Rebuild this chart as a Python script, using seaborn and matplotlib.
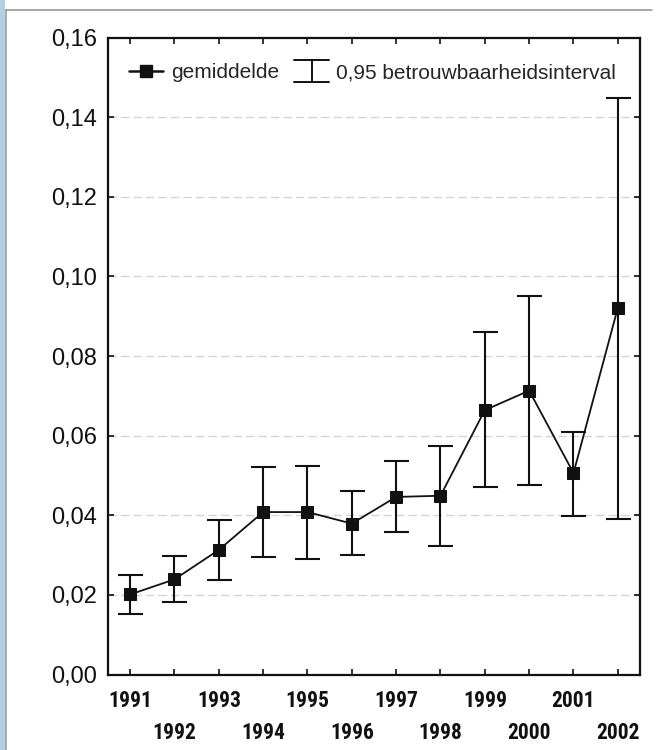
import numpy as np
import pandas as pd
import matplotlib
matplotlib.use("Agg")
import matplotlib.pyplot as plt
import seaborn as sns
from matplotlib import font_manager
from matplotlib.lines import Line2D
from matplotlib.legend_handler import HandlerBase
from matplotlib.patches import Rectangle

# ---- data ----
years = [1991, 1992, 1993, 1994, 1995, 1996, 1997, 1998, 1999, 2000, 2001, 2002]
mean_vals = [0.0201, 0.0239, 0.0313, 0.0408, 0.0408, 0.0379, 0.0446, 0.0449, 0.0664, 0.0713, 0.0506, 0.0921]
ci_upper = [0.0250, 0.0298, 0.0387, 0.0520, 0.0523, 0.0461, 0.0536, 0.0575, 0.0860, 0.0950, 0.0609, 0.1449]
ci_lower = [0.0152, 0.0183, 0.0237, 0.0294, 0.0290, 0.0299, 0.0358, 0.0323, 0.0472, 0.0476, 0.0398, 0.0391]
y_ticks = [0.00, 0.02, 0.04, 0.06, 0.08, 0.10, 0.12, 0.14, 0.16]
y_tick_labels = ["0,00", "0,02", "0,04", "0,06", "0,08", "0,10", "0,12", "0,14", "0,16"]
legend_mean = "gemiddelde"
legend_ci = "0,95 betrouwbaarheidsinterval"

df = pd.DataFrame({"jaar": years, "gemiddelde": mean_vals,
                   "boven": ci_upper, "onder": ci_lower})

sns.set_theme(style="white")
plt.rcParams["font.family"] = ["Liberation Sans", "DejaVu Sans"]


# pick a condensed bold font for the year labels if one is installed
def condensed_font(size):
    entries = font_manager.fontManager.ttflist
    wanted = ["Liberation Sans Narrow", "Roboto Condensed", "Open Sans Condensed",
              "DejaVu Sans Condensed", "Noto Sans Condensed"]
    for name in wanted:
        for e in entries:
            if e.name == name and e.weight in ("bold", 700):
                return font_manager.FontProperties(fname=e.fname, size=size)
    for e in entries:
        st = str(e.stretch)
        if (st in ("condensed", "semi-condensed", "extra-condensed")
                or "Condensed" in e.name or "Narrow" in e.name) and \
                e.weight in ("bold", 700, "heavy", 800):
            return font_manager.FontProperties(fname=e.fname, size=size)
    for e in entries:
        if "Condensed" in e.fname and "Bold" in e.fname:
            return font_manager.FontProperties(fname=e.fname, size=size)
    return font_manager.FontProperties(family="DejaVu Sans", weight="bold", size=size - 1.5)


fig = plt.figure(figsize=(6.57, 7.5), dpi=100)
fig.patch.set_facecolor("white")
ax = fig.add_axes([108 / 657, 1 - 674.5 / 750, 532 / 657, 637 / 750])

# grid lines
for yv in y_ticks[1:-1]:
    ax.axhline(yv, color="#d4d4d4", lw=1.0, ls=(0, (6, 3)), zorder=0)

# error bars
yerr = np.vstack([df["gemiddelde"] - df["onder"], df["boven"] - df["gemiddelde"]])
ax.errorbar(df["jaar"], df["gemiddelde"], yerr=yerr, fmt="none",
            ecolor="#111111", elinewidth=1.5, capsize=9, capthick=1.5, zorder=2)

# mean line
sns.lineplot(data=df, x="jaar", y="gemiddelde", ax=ax, color="#111111",
             lw=1.3, marker="s", markersize=8.5, markeredgecolor="#111111",
             markerfacecolor="#111111", zorder=3, legend=False)

ax.set_xlim(1990.5, 2002.5)
ax.set_ylim(0, 0.16)
ax.set_xlabel("")
ax.set_ylabel("")

# ticks
odd = [y for y in years if y % 2 == 1]
even = [y for y in years if y % 2 == 0]
ax.set_xticks(odd, [str(y) for y in odd])
ax.set_xticks(even, [str(y) for y in even], minor=True)
ax.set_yticks(y_ticks, y_tick_labels)

xfp = condensed_font(15.5)
for lab in ax.get_xticklabels(which="both"):
    lab.set_fontproperties(xfp)
    lab.set_color("#111111")
for lab in ax.get_yticklabels():
    lab.set_fontsize(17)
    lab.set_color("#111111")

ax.tick_params(axis="x", which="major", direction="in", top=True, bottom=True,
               length=4, width=1.2, pad=11, color="#111111")
ax.tick_params(axis="x", which="minor", direction="in", top=True, bottom=True,
               length=4, width=1.2, pad=34, color="#111111")
ax.tick_params(axis="y", which="major", direction="in", left=True, right=True,
               length=4, width=1.2, pad=8, color="#111111")

for sp in ax.spines.values():
    sp.set_visible(True)
    sp.set_color("#111111")
    sp.set_linewidth(1.6)


# legend
class IHandler(HandlerBase):
    def create_artists(self, legend, orig_handle, xdescent, ydescent,
                       width, height, fontsize, trans):
        x0, x1 = -xdescent, -xdescent + width
        cx = (x0 + x1) / 2
        cy = -ydescent + height / 2
        h = 8
        kw = dict(color="#111111", lw=1.4, transform=trans)
        return [Line2D([x0, x1], [cy + h, cy + h], **kw),
                Line2D([cx, cx], [cy - h, cy + h], **kw),
                Line2D([x0, x1], [cy - h, cy - h], **kw)]


class CIProxy:
    pass


h_mean = Line2D([], [], color="#111111", lw=1.8, marker="s", markersize=8.5)
h_ci = CIProxy()
ax.legend([h_mean, h_ci], [legend_mean, legend_ci],
          handler_map={CIProxy: IHandler()},
          loc="center left", bbox_to_anchor=((129 - 108) / 532, (674.5 - 73) / 637),
          ncol=2, frameon=False, fontsize=15, handlelength=1.65,
          handletextpad=0.35, columnspacing=0.75, borderpad=0, borderaxespad=0)

# figure frame (scan border)
fig.add_artist(Rectangle((0, 0), 5 / 657, 1, transform=fig.transFigure,
                         facecolor="#b7cde0", edgecolor="none", zorder=0))
fig.add_artist(Line2D([6 / 657, 6 / 657], [0, 1 - 10 / 750], transform=fig.transFigure,
                      color="#9a9a9a", lw=1.2))
fig.add_artist(Line2D([6 / 657, 652 / 657], [1 - 10 / 750, 1 - 10 / 750],
                      transform=fig.transFigure, color="#9a9a9a", lw=1.2))

fig.savefig("out.png", dpi=100)
